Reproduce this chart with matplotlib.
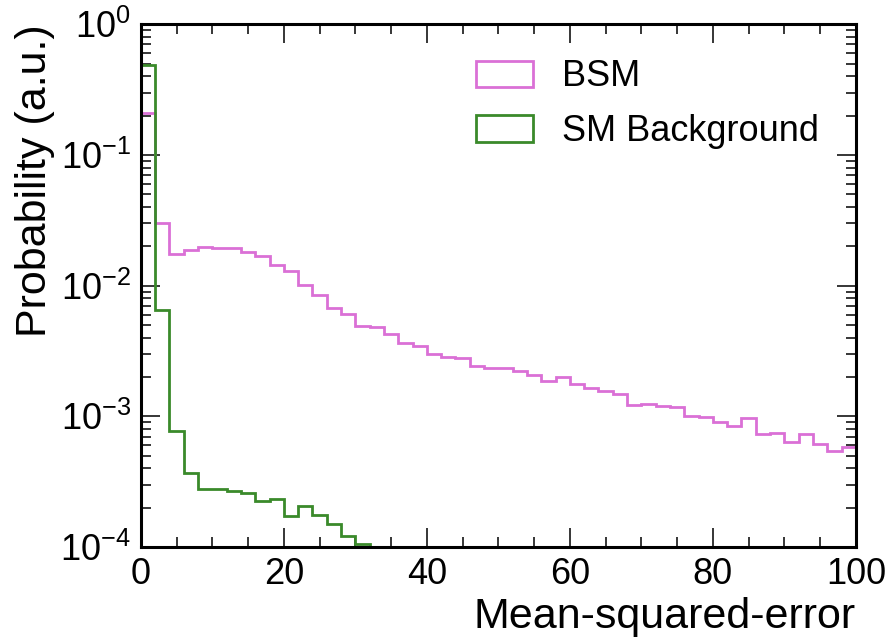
import numpy as np
import matplotlib
matplotlib.use("Agg")
import matplotlib.pyplot as plt
from matplotlib.ticker import MultipleLocator, LogLocator, NullFormatter

# per-bin probabilities, bins of width 2 on [0, 100]
bin_edges = np.arange(0, 102, 2)
bsm = [0.208, 0.0302, 0.0174, 0.0189, 0.0198, 0.0195, 0.0195, 0.0181, 0.0168, 0.0145,
       0.0129, 0.0101, 0.00846, 0.00676, 0.00602, 0.00490, 0.00479, 0.00425, 0.00361, 0.00345,
       0.00298, 0.00285, 0.00280, 0.00242, 0.00233, 0.00233, 0.00222, 0.00207, 0.00186, 0.00200,
       0.00177, 0.00164, 0.00157, 0.00148, 0.00122, 0.00125, 0.00121, 0.00118, 0.00100, 0.000982,
       0.000904, 0.000847, 0.000964, 0.000728, 0.000741, 0.000639, 0.000731, 0.000614, 0.000543, 0.000585]
sm_bkg = [0.486, 0.0065, 0.000776, 0.000370, 0.000276, 0.000276, 0.000270, 0.000257, 0.000226, 0.000234,
          0.000173, 0.000205, 0.000176, 0.000149, 0.000121, 0.000105, 0.00008, 0.00006]
labels = ["BSM", "SM Background"]
colors = ["orchid", "#3a8a2a"]

plt.rcParams["font.family"] = ["Liberation Sans", "DejaVu Sans"]
plt.rcParams["mathtext.fontset"] = "custom"
plt.rcParams["mathtext.rm"] = "Liberation Sans"
plt.rcParams["mathtext.it"] = "Liberation Sans:italic"
plt.rcParams["mathtext.default"] = "regular"
plt.rcParams["font.size"] = 26

fig = plt.figure(figsize=(8.86, 6.38), dpi=100)
ax = fig.add_axes([0.159, 0.1426, 0.807, 0.8194])

for vals, lab, col in zip([bsm, sm_bkg], labels, colors):
    edges = bin_edges[:len(vals) + 1]
    ax.hist(edges[:-1], bins=edges, weights=vals, histtype="step", color=col,
            lw=2, label=lab, log=True)

ax.set_xlim(0, 100)
ax.set_ylim(1e-4, 1)
ax.xaxis.set_major_locator(MultipleLocator(20))
ax.xaxis.set_minor_locator(MultipleLocator(5))
ax.yaxis.set_major_locator(LogLocator(base=10, numticks=10))
ax.yaxis.set_minor_locator(LogLocator(base=10, subs=np.arange(2, 10), numticks=20))
ax.yaxis.set_minor_formatter(NullFormatter())

ax.tick_params(which="both", direction="in", top=True, right=True, width=1.1)
ax.tick_params(which="major", length=14, pad=7, labelsize=26)
ax.tick_params(which="minor", length=7)
for s in ax.spines.values():
    s.set_linewidth(2.2)

ax.set_xlabel("Mean-squared-error", fontsize=31, loc="right")
ax.set_ylabel("Probability (a.u.)", fontsize=31, loc="top")

ax.legend(loc="upper right", frameon=False, fontsize=26, handlelength=1.58,
          handleheight=0.75, handletextpad=0.8, labelspacing=0.55,
          bbox_to_anchor=(0.994, 0.995))

fig.savefig("out.png", dpi=100)
